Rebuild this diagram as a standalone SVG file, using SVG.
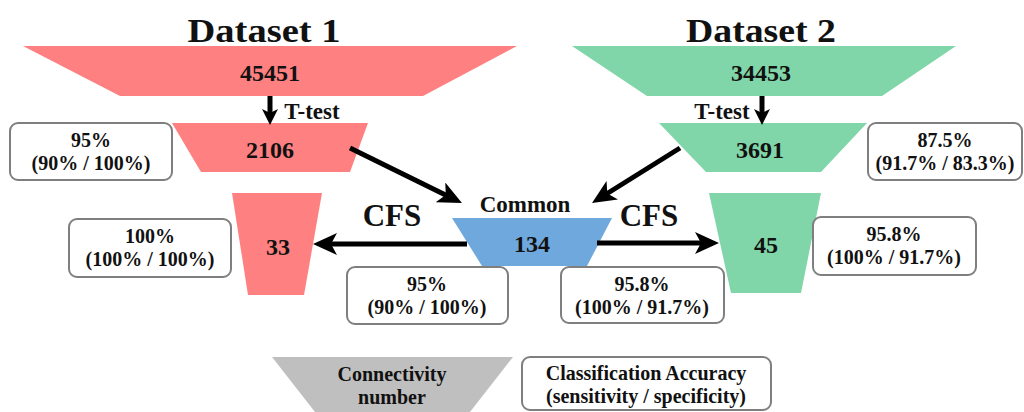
<svg xmlns="http://www.w3.org/2000/svg" width="1024" height="412" viewBox="0 0 1024 412">
<style>
text{font-family:"Liberation Serif","Times New Roman",serif;font-weight:bold;fill:#111;text-anchor:middle}
.h{font-size:33px}
.n{font-size:24px}
.t{font-size:23px}
.b{font-size:20px}
.cfs{font-size:31px}
.red{fill:#FF8080}
.grn{fill:#80D6A8}
.blu{fill:#6FA8DC}
.gry{fill:#BFBFBF}
.box{fill:#fff;stroke:#7f7f7f;stroke-width:2}
.arr{stroke:#000;stroke-width:5;fill:none}
</style>
<defs>
<marker id="big" viewBox="0 0 24 22" markerWidth="24" markerHeight="22" refX="8" refY="11" orient="auto" markerUnits="userSpaceOnUse">
<path d="M0,0 L24,11 L0,22 L6,11 z" fill="#000"/>
</marker>
<marker id="small" viewBox="0 0 16 16" markerWidth="16" markerHeight="16" refX="6" refY="8" orient="auto" markerUnits="userSpaceOnUse">
<path d="M0,0 L16,8 L0,16 L4,8 z" fill="#000"/>
</marker>
</defs>
<rect width="1024" height="412" fill="#fff"/>

<g id="dataset1">
<text class="h" x="264" y="42" textLength="153" lengthAdjust="spacingAndGlyphs">Dataset 1</text>
<polygon class="red" points="23,46 517,46 423,96 120,96"/>
<text class="n" x="270" y="81">45451</text>
</g>
<g id="ttest1">
<polygon class="red" points="172,123 368,123 350,172 201,172"/>
<text class="n" x="270" y="158">2106</text>
</g>
<g id="cfs1">
<polygon class="red" points="232,193 322,193 304,295 248,295"/>
<text class="n" x="278" y="255">33</text>
</g>

<g id="dataset2">
<text class="h" x="761" y="42" textLength="150" lengthAdjust="spacingAndGlyphs">Dataset 2</text>
<polygon class="grn" points="572,46 956,46 882,96 647,96"/>
<text class="n" x="761" y="81">34453</text>
</g>
<g id="ttest2">
<polygon class="grn" points="659,123 867,123 821,172 706,172"/>
<text class="n" x="760" y="158">3691</text>
</g>
<g id="cfs2">
<polygon class="grn" points="709,193 821,193 801,293 731,293"/>
<text class="n" x="766" y="253">45</text>
</g>

<g id="common">
<text class="t" x="525" y="212">Common</text>
<polygon class="blu" points="452,218 612,218 587,266 482,266"/>
<text class="n" x="532" y="252">134</text>
</g>

<g id="acc-ttest1">
<rect class="box" x="10" y="123" width="162" height="57" rx="8"/>
<text class="b" x="91" y="147">95%</text>
<text class="b" x="91" y="170">(90% / 100%)</text>
</g>
<g id="acc-cfs1">
<rect class="box" x="69" y="219" width="162" height="58" rx="8"/>
<text class="b" x="150" y="243">100%</text>
<text class="b" x="150" y="266">(100% / 100%)</text>
</g>
<g id="acc-common1">
<rect class="box" x="347" y="267" width="161" height="57" rx="8"/>
<text class="b" x="427" y="291">95%</text>
<text class="b" x="427" y="314">(90% / 100%)</text>
</g>
<g id="acc-common2">
<rect class="box" x="561" y="267" width="163" height="56" rx="8"/>
<text class="b" x="642" y="291">95.8%</text>
<text class="b" x="642" y="314">(100% / 91.7%)</text>
</g>
<g id="acc-cfs2">
<rect class="box" x="813" y="217" width="163" height="58" rx="8"/>
<text class="b" x="894" y="241">95.8%</text>
<text class="b" x="894" y="264">(100% / 91.7%)</text>
</g>
<g id="acc-ttest2">
<rect class="box" x="868" y="123" width="154" height="57" rx="8"/>
<text class="b" x="945" y="147">87.5%</text>
<text class="b" x="945" y="170">(91.7% / 83.3%)</text>
</g>

<g id="connectors">
<line class="arr" x1="270" y1="96" x2="270" y2="115" marker-end="url(#small)"/>
<text class="t" x="312" y="119">T-test</text>
<line class="arr" x1="762" y1="96" x2="762" y2="115" marker-end="url(#small)"/>
<text class="t" x="722" y="119">T-test</text>
<line class="arr" x1="350" y1="148" x2="447.6" y2="195.9" marker-end="url(#big)"/>
<line class="arr" x1="680" y1="148" x2="605.6" y2="194.5" marker-end="url(#big)"/>
<line class="arr" x1="467" y1="244" x2="329" y2="244" marker-end="url(#big)"/>
<text class="cfs" x="392" y="226">CFS</text>
<line class="arr" x1="597" y1="243" x2="703" y2="243" marker-end="url(#big)"/>
<text class="cfs" x="649" y="226">CFS</text>
</g>

<g id="legend-connectivity">
<polygon class="gry" points="272,357 513,357 470,412 315,412"/>
<text class="b" x="392" y="381">Connectivity</text>
<text class="b" x="392" y="404">number</text>
</g>
<g id="legend-accuracy">
<rect class="box" x="522" y="357" width="249" height="53" rx="8"/>
<text class="b" x="646" y="380">Classification Accuracy</text>
<text class="b" x="646" y="403">(sensitivity / specificity)</text>
</g>
</svg>
